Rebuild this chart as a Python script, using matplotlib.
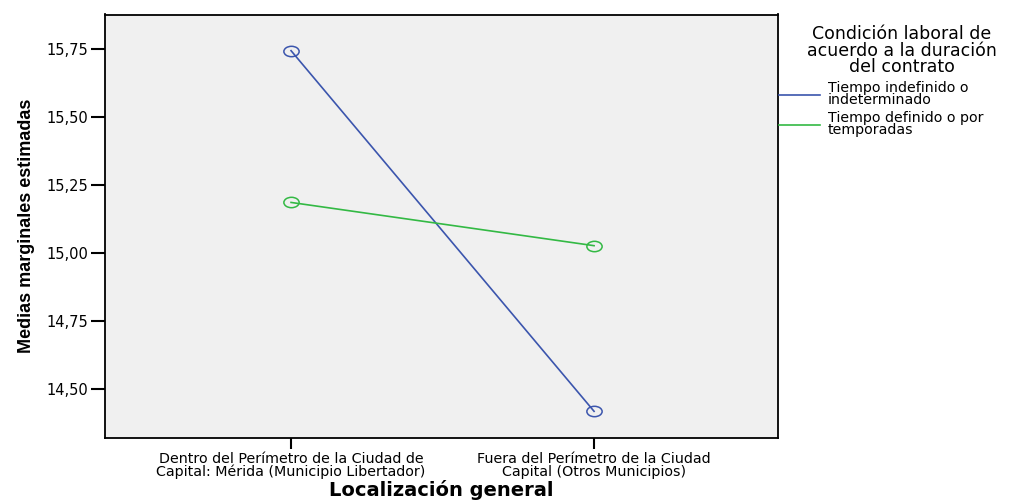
import numpy as np
import matplotlib
matplotlib.use("Agg")
from matplotlib import pyplot as plt
from matplotlib.path import Path
from matplotlib.transforms import Affine2D
from matplotlib.lines import Line2D

# datos
categorias = ["Dentro del Perímetro de la Ciudad de\nCapital: Mérida (Municipio Libertador)",
              "Fuera del Perímetro de la Ciudad\nCapital (Otros Municipios)"]
indefinido = [15.745, 14.419]
definido = [15.187, 15.028]
series_nombres = ["Tiempo indefinido o\nindeterminado", "Tiempo definido o por\ntemporadas"]
leyenda_titulo = "Condición laboral de\nacuerdo a la duración\ndel contrato"
yticks = [14.50, 14.75, 15.00, 15.25, 15.50, 15.75]

azul = "#3b55ad"
verde = "#33b944"

plt.rcParams['font.family'] = ['DejaVu Sans']

fig = plt.figure(figsize=(10.14, 5.0), dpi=100)
ax = fig.add_axes([105/1014, 1-437.7/500, (778-105)/1014, (437.7-14.5)/500])
ax.set_facecolor("#f0f0f0")

# circulo achatado (la imagen original esta estirada a lo ancho)
elipse = Path.unit_circle().transformed(Affine2D().scale(1.0, 0.68))

x = np.arange(len(categorias))
ax.plot(x, indefinido, color=azul, lw=1.2, marker=elipse, markersize=11,
        markerfacecolor="none", markeredgecolor=azul, markeredgewidth=1.1)
ax.plot(x, definido, color=verde, lw=1.2, marker=elipse, markersize=11,
        markerfacecolor="none", markeredgecolor=verde, markeredgewidth=1.1)

ax.set_xlim(-0.614, 1.607)
ax.set_ylim(14.322, 15.878)
ax.set_yticks(yticks)
ax.set_yticklabels([("%.2f" % v).replace(".", ",") for v in yticks], fontsize=10.5)
ax.set_xticks(x)
ax.set_xticklabels(categorias, fontsize=10.3, linespacing=0.92)

for s in ax.spines.values():
    s.set_linewidth(1.3)
    s.set_color("black")
ax.tick_params(axis='y', direction='out', length=10, width=1.5, pad=2)
ax.tick_params(axis='x', direction='out', length=8, width=1.5, pad=2)

ax.set_ylabel("Medias marginales estimadas", fontsize=13, fontweight='bold',
              family=['Liberation Sans', 'DejaVu Sans'], labelpad=8)
fig.text(441.5/1014, 1-496/500, "Localización general", ha='center', va='baseline',
         fontsize=14, fontweight='bold')

# leyenda dibujada a mano, a la derecha del area del grafico
fig.text(902/1014, 1-25/500, leyenda_titulo, ha='center', va='top', fontsize=12.5,
         linespacing=0.9, multialignment='center')

ly = [95, 125]
for nombre, color, y0 in zip(series_nombres, [azul, verde], ly):
    fig.add_artist(Line2D([779/1014, 820/1014], [1-y0/500, 1-y0/500],
                          color=color, lw=1.2, transform=fig.transFigure))
    fig.text(828/1014, 1-(y0-1)/500, nombre, ha='left', va='center', fontsize=10.2,
             linespacing=0.85)

fig.savefig("out.png", dpi=100)
